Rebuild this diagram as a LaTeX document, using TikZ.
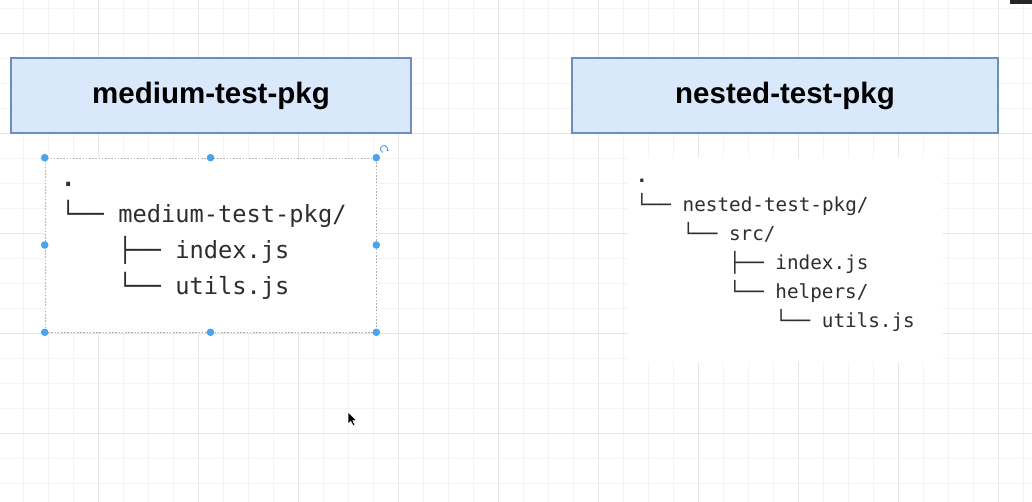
\documentclass[tikz,border=0pt]{standalone}
\usepackage{fontspec}
\newfontfamily\treefont{DejaVu Sans Mono}
\newfontfamily\headfont{Liberation Sans}
\usetikzlibrary{arrows.meta}

\definecolor{boxfill}{HTML}{DAE8FC}
\definecolor{boxdraw}{HTML}{6C8EBF}
\definecolor{selblue}{HTML}{4AA3EC}
\definecolor{gridminor}{HTML}{F4F4F4}
\definecolor{gridmajor}{HTML}{E6E6E6}
\definecolor{treetext}{HTML}{2E2E2E}

\tikzset{
	pkgbox/.style={draw=boxdraw, fill=boxfill, line width=2pt, inner sep=0pt,
		minimum height=75pt, font=\headfont\bfseries\fontsize{29.5}{32}\selectfont},
	selbox/.style={draw=black!30, fill=white, line width=0.6pt, dash pattern=on 1.6pt off 1.6pt,
		minimum width=331pt, minimum height=174pt, inner sep=0pt},
	treeline/.style={anchor=base west, inner sep=0pt, text=treetext},
	mediumfont/.style={font=\treefont\fontsize{23.7}{28}\selectfont},
	nestedfont/.style={font=\treefont\fontsize{19.3}{23}\selectfont},
}

% Function: one tree listing
% #1 : name (style #1font, nodes #1<i>)
% #2 : x of first char cell
% #3 : y of first baseline
% #4 : char width
% #5 : line step
% #6 : list of indent/text
\newcommand{\treelines}[6]{%
	\foreach \ind/\txt [count=\i] in {#6} {
		\node [treeline, #1font] (#1\i) at (#2+\ind*#4, #3+\i*#5-#5) {\txt};
	}%
}

\begin{document}
\begin{tikzpicture}[x=1pt, y=-1pt]

\path [use as bounding box] (0,0) rectangle (1032,502);
\fill [white] (0,0) rectangle (1032,502);

% GRID
\foreach \x in {23.5,48.5,...,1030}
	\draw [gridminor, line width=0.8pt] (\x,0) -- (\x,502);
\foreach \y in {8,33,...,500}
	\draw [gridminor, line width=0.8pt] (0,\y) -- (1032,\y);
\foreach \x in {98.5,198.5,...,1000}
	\draw [gridmajor, line width=0.8pt] (\x,0) -- (\x,502);
\foreach \y in {33,133,...,500}
	\draw [gridmajor, line width=0.8pt] (0,\y) -- (1032,\y);

% HEADERS
\node [pkgbox, minimum width=400pt] (mediumhead) at (211,95.5) {medium-test-pkg};
\node [pkgbox, minimum width=426pt] (nestedhead) at (785,95.5) {nested-test-pkg};

% SELECTED TREE (left)
\node [selbox] (msel) at (210.5,245) {};
\foreach \a in {north west,north,north east,east,south east,south,south west,west}
	\fill [selblue] (msel.\a) circle (3.8);
\draw [selblue, line width=0.9pt, -{Stealth[length=2.2pt, width=3.2pt]}]
	(384,149) ++(110:3.6) arc (110:400:3.6);

\treelines{medium}{61}{187}{14.25}{35.7}{
	0/{\bfseries .},
	0/{└── medium-test-pkg/},
	4/{├── index.js},
	4/{└── utils.js}}

% NESTED TREE (right)
\fill [white] (628,158) rectangle (942,362);
\treelines{nested}{636}{183}{11.6}{28.8}{
	0/{\bfseries .},
	0/{└── nested-test-pkg/},
	4/{└── src/},
	8/{├── index.js},
	8/{└── helpers/},
	12/{└── utils.js}}

% SCREEN BITS
\fill [black!85] (1010,0) rectangle (1032,4.5);
\filldraw [fill=black, draw=white, line width=0.5pt] (348,412) -- (348,424) -- (350.8,421.3)
	-- (353.2,425.8) -- (355,425) -- (352.8,420.6) -- (356.6,420.6) -- cycle;

\end{tikzpicture}
\end{document}
